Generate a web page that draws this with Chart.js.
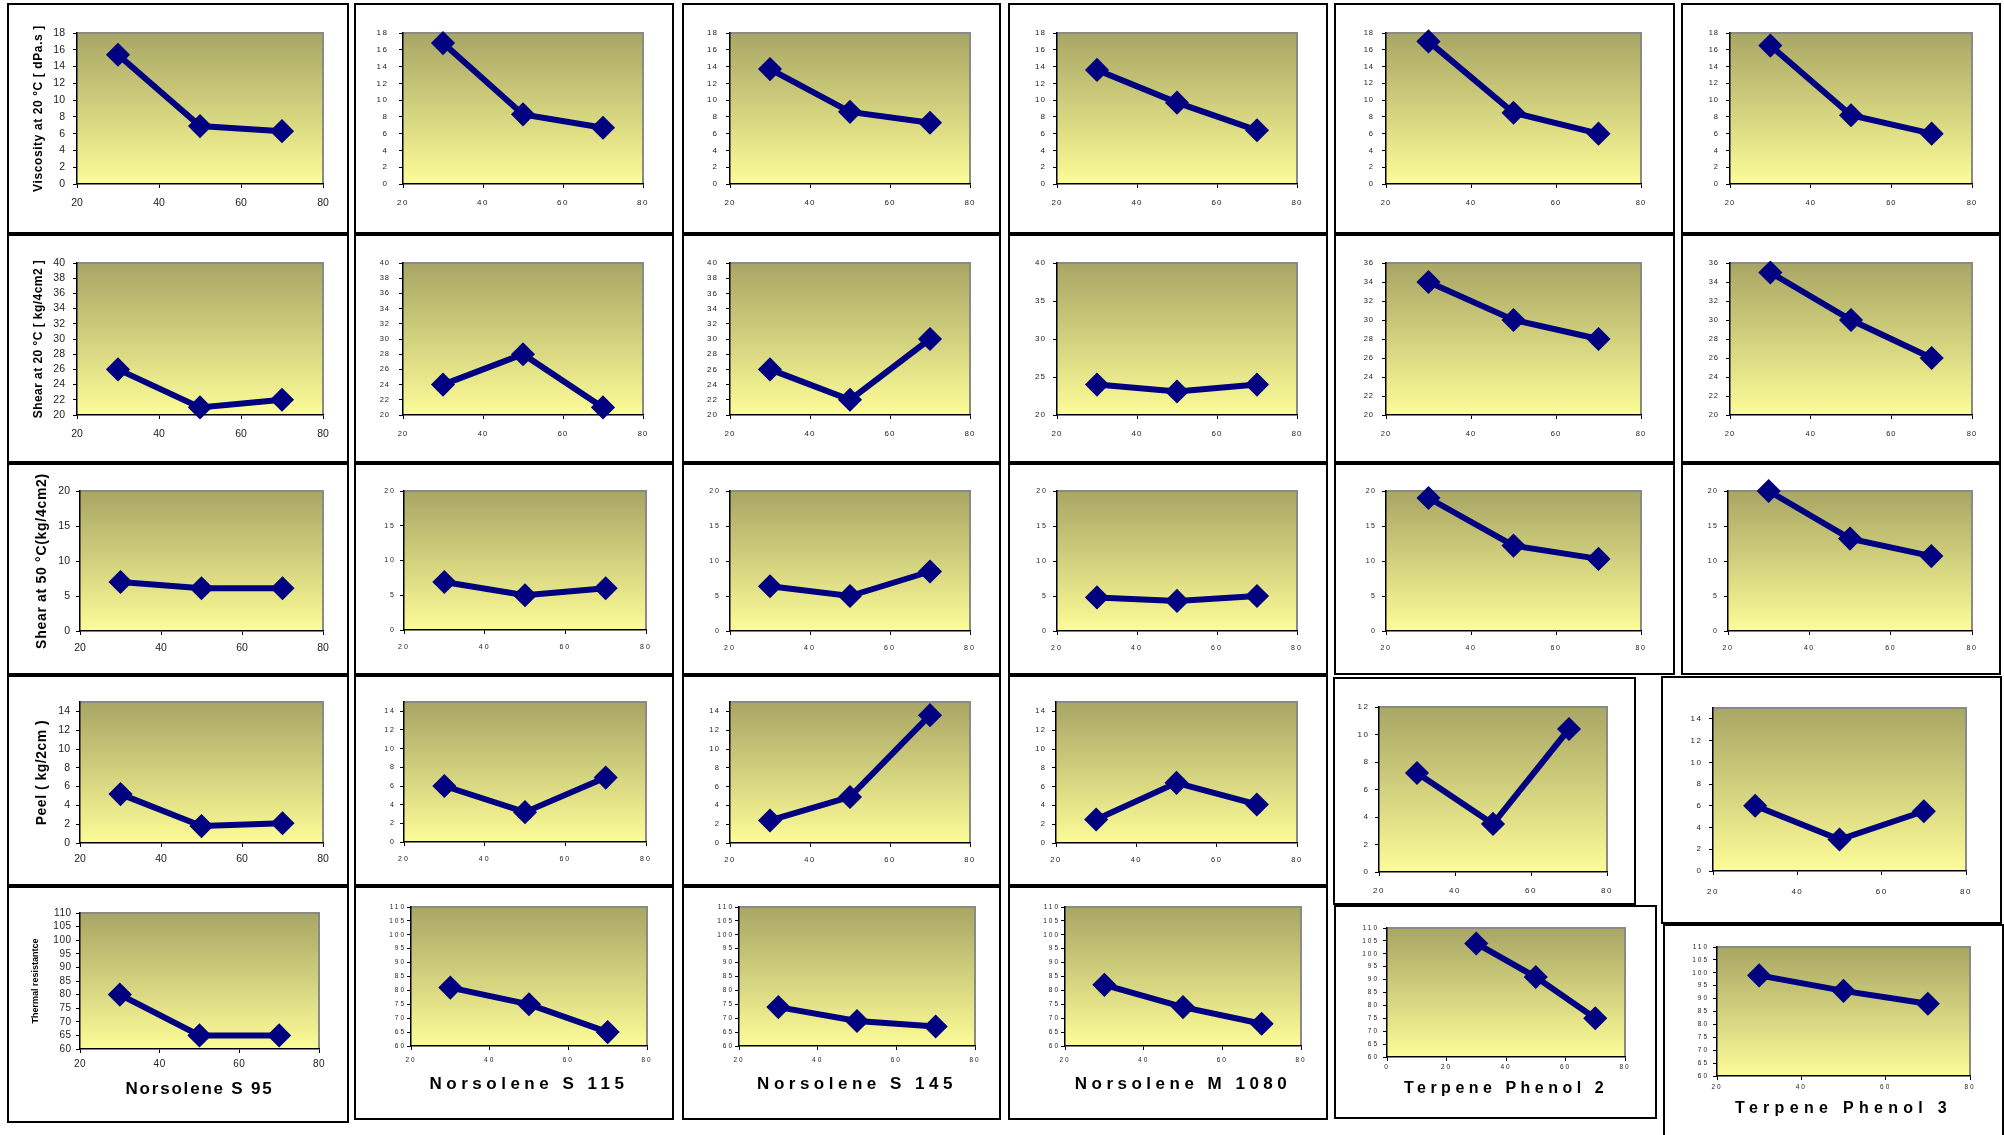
<!DOCTYPE html>
<html lang="en">
<head>
<meta charset="UTF-8">
<title>Resin content charts</title>
<script src="https://cdn.jsdelivr.net/npm/chart.js@4.4.0/dist/chart.umd.min.js"></script>
<style>
  body { margin: 0; background: #fff; overflow: hidden; width: 2004px; height: 1135px; position: relative; }
  canvas, .box { position: absolute; }
  .box { border: 2px solid #000; box-sizing: border-box; pointer-events: none; }
</style>
</head>
<body>
<script>
// resin content on the x axis
var content = [30, 50, 70];
var resins = ['Norsolene S 95', 'Norsolene S 115', 'Norsolene S 145', 'Norsolene M 1080', 'Terpene Phenol 2', 'Terpene Phenol 3'];

// one array per resin, values at 30 / 50 / 70
var viscosity20 = [[15.4, 6.9, 6.3], [16.8, 8.3, 6.7], [13.7, 8.6, 7.3], [13.6, 9.7, 6.4], [17.0, 8.5, 6.0], [16.5, 8.2, 6.0]];
var shear20 = [[26, 21, 22], [24, 28, 21], [26, 22, 30], [24, 23.1, 24], [34, 30, 28], [35, 30, 26]];
var shear50 = [[7, 6.1, 6.1], [6.9, 5, 6], [6.4, 5, 8.5], [4.8, 4.3, 5], [19, 12.2, 10.3], [20, 13.2, 10.7]];
var peel = [[5.2, 1.8, 2.1], [6, 3.2, 6.9], [2.4, 4.9, 13.6], [2.5, 6.4, 4.1], [7.2, 3.5, 10.4], [6, 2.9, 5.5]];
var thermal = [[80, 65, 65], [81, 75, 65], [74, 69, 67], [82, 74, 68], [104, 91, 75], [99, 93, 88]];

var rowTitles = ['Viscosity at 20 °C [ dPa.s ]', 'Shear at 20 °C [ kg/4cm2 ]', 'Shear at 50 °C(kg/4cm2)', 'Peel ( kg/2cm )', 'Thermal resistantce'];

// y axis [min, max, step] per resin
var viscosityY = [[0, 18, 2], [0, 18, 2], [0, 18, 2], [0, 18, 2], [0, 18, 2], [0, 18, 2]];
var shear20Y = [[20, 40, 2], [20, 40, 2], [20, 40, 2], [20, 40, 5], [20, 36, 2], [20, 36, 2]];
var shear50Y = [[0, 20, 5], [0, 20, 5], [0, 20, 5], [0, 20, 5], [0, 20, 5], [0, 20, 5]];
var peelY = [[0, 15, 2], [0, 15, 2], [0, 15, 2], [0, 15, 2], [0, 12, 2], [0, 15, 2]];
var thermalY = [[60, 110, 5], [60, 110, 5], [60, 110, 5], [60, 110, 5], [60, 110, 5], [60, 110, 5]];
// x axis [min, max, step]
var xRange = [20, 80, 20];
var tp2ThermalX = [0, 80, 20];

var rows = [
  { values: viscosity20, y: viscosityY },
  { values: shear20, y: shear20Y },
  { values: shear50, y: shear50Y },
  { values: peel, y: peelY },
  { values: thermal, y: thermalY }
];

// ---- layout (page pixels) ----
var colX = [[7, 349], [354, 674], [682, 1001], [1008, 1328], [1334, 1675], [1681, 2001]];
var boxes = [
  colX.map(function (c) { return [c[0], 3, c[1], 234]; }),
  colX.map(function (c) { return [c[0], 234, c[1], 463]; }),
  colX.map(function (c) { return [c[0], 463, c[1], 675]; }),
  [[7, 675, 349, 886], [354, 675, 674, 886], [682, 675, 1001, 886], [1008, 675, 1328, 886], [1333, 677, 1636, 905], [1661, 676, 2002, 924]],
  [[7, 886, 349, 1123], [354, 886, 674, 1120], [682, 886, 1001, 1120], [1008, 886, 1328, 1120], [1334, 905, 1657, 1119], [1663, 924, 2004, 1140]]
];
var plotX = [[77, 323], [403, 643], [730, 970], [1057, 1297], [1386, 1641], [1730, 1972]];
var plots = [
  plotX.map(function (p) { return [p[0], 33, p[1], 184]; }),
  plotX.map(function (p) { return [p[0], 263, p[1], 415]; }),
  [[80, 491, 323, 631], [404, 491, 646, 630], [730, 491, 970, 631], [1057, 491, 1297, 631], [1386, 491, 1641, 631], [1728, 491, 1972, 631]],
  [[80, 702, 323, 843], [404, 702, 646, 842], [730, 702, 970, 843], [1056, 702, 1297, 843], [1379, 707, 1607, 872], [1713, 708, 1966, 871]],
  [[80, 913, 319, 1049], [411, 907, 647, 1046], [739, 907, 975, 1046], [1065, 907, 1301, 1046], [1387, 928, 1625, 1057], [1717, 947, 1970, 1076]]
];
// [font size, letter spacing, x label offset, y label gap]
var tickStyle = [
  [[10.5, 0, 19, 12], [8, 1.5, 19, 16], [8, 1, 19, 13], [8, 1, 19, 12], [7.5, 1, 19, 13], [7.5, 1, 19, 12]],
  [[10.5, 0, 19, 12], [7.5, 1, 19, 14], [8, 1, 19, 13], [8, 1, 19, 12], [7.5, 1, 19, 13], [7.5, 1, 19, 12]],
  [[10.5, 0, 17, 10], [7, 2, 17, 10], [7, 2, 17, 11], [7, 2, 17, 11], [7, 1.5, 17, 11], [7, 1.5, 17, 11]],
  [[10.5, 0, 16, 10], [7, 2, 17, 10], [7.5, 1.5, 17, 11], [7.5, 1.5, 17, 11], [8, 1.5, 19, 11], [8, 1.5, 21, 12]],
  [[10, 0.5, 15, 9], [6.5, 2, 14, 6], [6.5, 2, 14, 6], [6.5, 2, 14, 6], [6.5, 2, 10, 10], [6.5, 2, 11, 10]]
];
// resin name under the bottom row: [center y, font size, letter spacing]
var nameStyle = [[1089, 17, 1.8], [1084, 17, 4.5], [1084, 17, 4.5], [1084, 17, 4.5], [1089, 16, 4.5], [1109, 16, 5.3]];
// row titles on the first column: [center x, font size, letter spacing]
var rowTitleStyle = [[39, 12, 0.6], [39, 12, 0.45], [42, 14, 0.7], [42, 14, 0.5], [36, 9, 0]];

var FONT = '"Liberation Sans", Arial, sans-serif';
Chart.defaults.font.family = FONT;

var plotBg = {
  id: 'plotbg',
  beforeDraw: function (chart, args, opts) {
    var a = chart.chartArea, ctx = chart.ctx;
    var g = ctx.createLinearGradient(0, a.top, 0, a.bottom);
    g.addColorStop(0, '#a8a664');
    g.addColorStop(1, '#fcfc98');
    ctx.save();
    ctx.fillStyle = g;
    ctx.fillRect(a.left, a.top, a.right - a.left, a.bottom - a.top);
    ctx.strokeStyle = '#8a8a8a';
    ctx.lineWidth = 2;
    ctx.beginPath();
    ctx.moveTo(a.left, a.top);
    ctx.lineTo(a.right, a.top);
    ctx.lineTo(a.right, a.bottom);
    ctx.stroke();
    ctx.restore();
    ctx.letterSpacing = opts.spacing + 'px';  // tick labels
  }
};

function spaceTitle(scale, px) {
  if (scale._spaced) return;
  scale._spaced = true;
  var draw = scale.drawTitle;
  scale.drawTitle = function () {
    var c = this.ctx, old = c.letterSpacing;
    c.letterSpacing = px + 'px';
    draw.call(this);
    c.letterSpacing = old;
  };
}

function makePanel(r, c) {
  var b = boxes[r][c], p = plots[r][c], ts = tickStyle[r][c];
  var W = b[2] - b[0], H = b[3] - b[1];
  var yw = p[0] - b[0], xh = b[3] - p[3];
  var yr = rows[r].y[c];
  var xr = (r == 4 && c == 4) ? tp2ThermalX : xRange;
  var vals = rows[r].values[c];

  var cv = document.createElement('canvas');
  cv.width = W; cv.height = H;
  cv.style.left = b[0] + 'px'; cv.style.top = b[1] + 'px';
  document.body.appendChild(cv);

  var ns = nameStyle[c], rs = rowTitleStyle[r];
  var tickFont = { size: ts[0], family: FONT };

  new Chart(cv, {
    type: 'scatter',
    data: {
      datasets: [{
        data: content.map(function (x, i) { return { x: x, y: vals[i] }; }),
        showLine: true,
        borderColor: '#000080',
        backgroundColor: '#000080',
        borderWidth: 6,
        pointStyle: 'rectRot',
        pointRadius: 11,
        pointHoverRadius: 11,
        pointBorderWidth: 1.5,
        pointBackgroundColor: '#000080',
        pointBorderColor: '#000080',
        tension: 0,
        clip: false
      }]
    },
    options: {
      responsive: false,
      animation: false,
      events: [],
      layout: { padding: { left: 0, top: p[1] - b[1], right: b[2] - p[2], bottom: 0 } },
      plugins: { legend: { display: false }, tooltip: { enabled: false }, plotbg: { spacing: ts[1] } },
      scales: {
        x: {
          type: 'linear', min: xr[0], max: xr[1],
          ticks: { stepSize: xr[2], font: tickFont, color: '#222', padding: Math.max(1, ts[2] - 4 - 0.6 * ts[0]), maxRotation: 0, autoSkip: false, includeBounds: false },
          grid: { drawOnChartArea: false, tickLength: 4, color: '#000', lineWidth: 1 },
          border: { color: '#000', width: 1.5 },
          title: {
            display: r == 4, text: resins[c], color: '#000',
            font: { size: ns[1], weight: 'bold', family: FONT },
            padding: { top: 0, bottom: (b[3] - ns[0]) - 0.6 * ns[1] }
          },
          afterFit: function (s) { s.height = xh; spaceTitle(s, ns[2]); }
        },
        y: {
          type: 'linear', min: yr[0], max: yr[1],
          ticks: { stepSize: yr[2], font: tickFont, color: '#222', padding: Math.max(1, ts[3] - 4 - ts[1]), autoSkip: false, includeBounds: false },
          grid: { drawOnChartArea: false, tickLength: 4, color: '#000', lineWidth: 1 },
          border: { color: '#000', width: 1.5 },
          title: {
            display: c == 0, text: rowTitles[r], color: '#000',
            font: { size: rs[1], weight: 'bold', family: FONT },
            padding: { top: (rs[0] - b[0]) - 0.6 * rs[1], bottom: 0 }
          },
          afterFit: function (s) { s.width = yw; spaceTitle(s, rs[2]); }
        }
      }
    },
    plugins: [plotBg]
  });

  var box = document.createElement('div');
  box.className = 'box';
  box.style.left = b[0] + 'px'; box.style.top = b[1] + 'px';
  box.style.width = W + 'px'; box.style.height = H + 'px';
  document.body.appendChild(box);
}

for (var r = 0; r < rows.length; r++) {
  for (var c = 0; c < resins.length; c++) {
    makePanel(r, c);
  }
}
</script>
</body>
</html>
